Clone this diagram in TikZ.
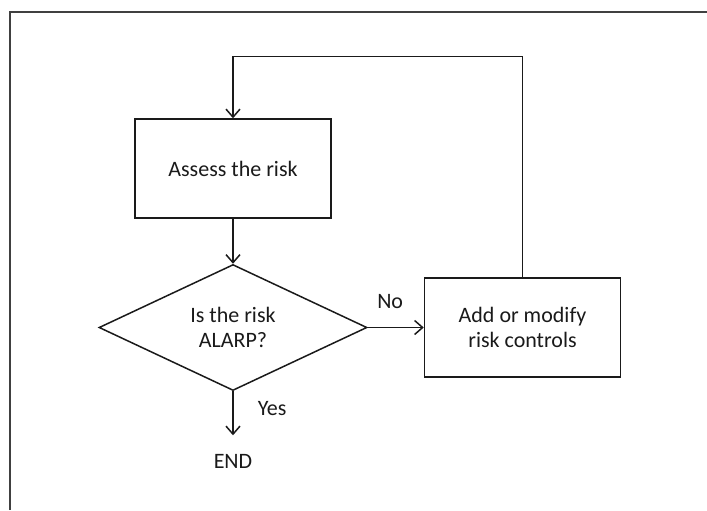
\documentclass[tikz,border=0pt]{standalone}
\usepackage{fontspec}
\setmainfont{Carlito}
\usetikzlibrary{positioning,arrows.meta,shapes.geometric,calc}
\definecolor{ink}{HTML}{1A1A1A}
\definecolor{framegray}{HTML}{404040}
\tikzset{
  txt/.style={font=\fontsize{11}{12.5}\selectfont, text=ink},
  proc/.style={txt, draw=ink, line width=0.75pt, align=center,
               minimum width=98pt, minimum height=49.5pt},
  decision/.style={txt, draw=ink, line width=0.75pt, diamond, aspect=2.13,
                   align=center, inner sep=0pt,
                   minimum width=134pt, minimum height=63pt},
  term/.style={txt, inner xsep=2pt, inner ysep=9.5pt},
  lbl/.style={txt, inner xsep=12pt, inner ysep=9pt},
  flow/.style={-{Straight Barb[length=4pt,width=7pt]}, line width=0.75pt, draw=ink},
}

\begin{document}
\begin{tikzpicture}[x=0.5pt, y=-0.5pt, node distance=22.5pt and 28pt]
\useasboundingbox (0,0) rectangle (707,510);
% page frame, open at the bottom and right
\draw[framegray, line width=1pt] (9.5,510) -- (9.5,12) -- (707,12);

% ---- steps ----------------------------------------------------------------
\node[proc] (assess) at (233,168.5) {Assess the risk};
\node[decision, below=of assess] (alarp) {Is the risk\\ALARP?};
\node[proc, right=of alarp] (modify) {Add or modify\\risk controls};
\node[term, below=22pt of alarp] (end) {END};
\coordinate[above=31pt of assess] (loop);

% ---- arrows ---------------------------------------------------------------
\draw[flow] (assess) -- (alarp);
\draw[flow] (alarp) -- node[lbl, above, pos=0.4] {No} (modify);
\draw[flow] (alarp) -- node[lbl, right, pos=0.4] {Yes} (end);
\draw[flow] (modify.north) |- (loop) -- (assess);
\end{tikzpicture}
\end{document}
